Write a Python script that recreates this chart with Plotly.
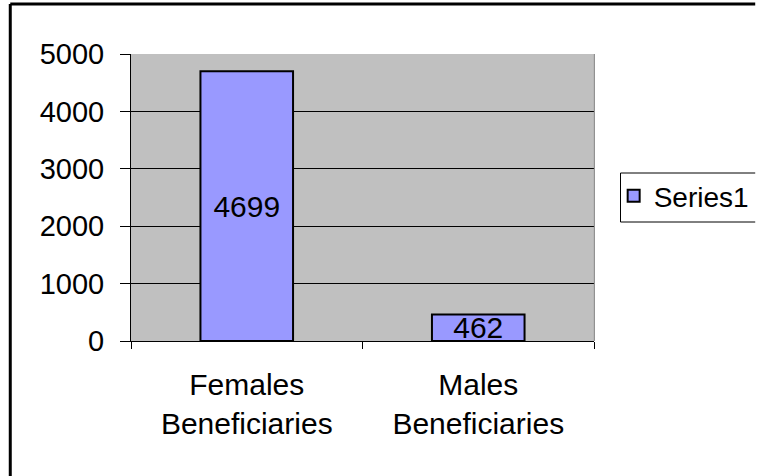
import plotly.graph_objects as go

categories = ["Females<br>Beneficiaries", "Males<br>Beneficiaries"]
values = [4699, 462]
series_name = "Series1"
y_ticks = [0, 1000, 2000, 3000, 4000, 5000]

W, H = 766, 476
# the page is captured slightly compressed horizontally (766 -> ~749),
# so horizontal positions are laid out in pre-compensated figure pixels
KX = 766 / 749

def sx(x):
    return x * KX

L, R, T, B = round(sx(128)), round(sx(589)), 54, 341
pw, ph = R - L, B - T

def px(x):
    return (sx(x) - L) / pw

def py(y):
    return (B - y) / ph

FONT = "Liberation Sans, Arial, sans-serif"
FS = 30

fig = go.Figure()
fig.add_trace(go.Bar(
    x=categories, y=values, name=series_name,
    marker=dict(color="#9999FF", line=dict(color="black", width=2)),
    text=[str(v) for v in values], textposition="inside",
    insidetextanchor="middle", constraintext="none",
    textfont=dict(color="black", size=FS, family=FONT),
    showlegend=True,
))

def seg(x0, y0, x1, y1, width, color="black"):
    return dict(type="line", xref="paper", yref="paper",
                x0=px(x0), x1=px(x1), y0=py(y0), y1=py(y1),
                line=dict(color=color, width=width))

shapes = [
    seg(8, 4, 8, 476, 3),
    seg(8, 4, 749, 4, 3),
    seg(615, 173, 749, 173, 1),
    seg(615, 222, 749, 222, 1),
    seg(615, 173, 615, 222, 1),
    seg(589, 54, 589, 341, 1, "#808080"),
]

legend_x_fig = 622

fig.update_layout(
    width=W, height=H,
    margin=dict(l=L, r=W - R, t=T, b=H - B, pad=0),
    paper_bgcolor="white", plot_bgcolor="#C0C0C0",
    font=dict(family=FONT, size=FS, color="black"),
    bargap=0.6,
    showlegend=True,
    legend=dict(x=(legend_x_fig - L) / pw, y=py(171), xanchor="left", yanchor="top",
                bgcolor="rgba(0,0,0,0)", borderwidth=0,
                font=dict(size=28, family=FONT)),
    xaxis=dict(type="category", showgrid=False, showline=True, linecolor="black",
               linewidth=1, ticks="outside", tickson="boundaries", ticklen=7,
               tickcolor="black", tickfont=dict(size=FS), ticklabelstandoff=17,
               fixedrange=True),
    yaxis=dict(range=[0, 5000], tickvals=y_ticks, showgrid=True, gridcolor="black",
               gridwidth=1, showline=True, linecolor="black", linewidth=1,
               ticks="outside", ticklen=10, tickcolor="black", zeroline=False,
               tickfont=dict(size=29), ticklabelstandoff=10, fixedrange=True),
    shapes=shapes,
)

fig.write_html(
    "out.html",
    config={"displayModeBar": False},
    post_script=(
        "document.body.style.margin='0';"
        "document.body.style.overflow='hidden';"
        "document.documentElement.style.overflow='hidden';"
    ),
)
